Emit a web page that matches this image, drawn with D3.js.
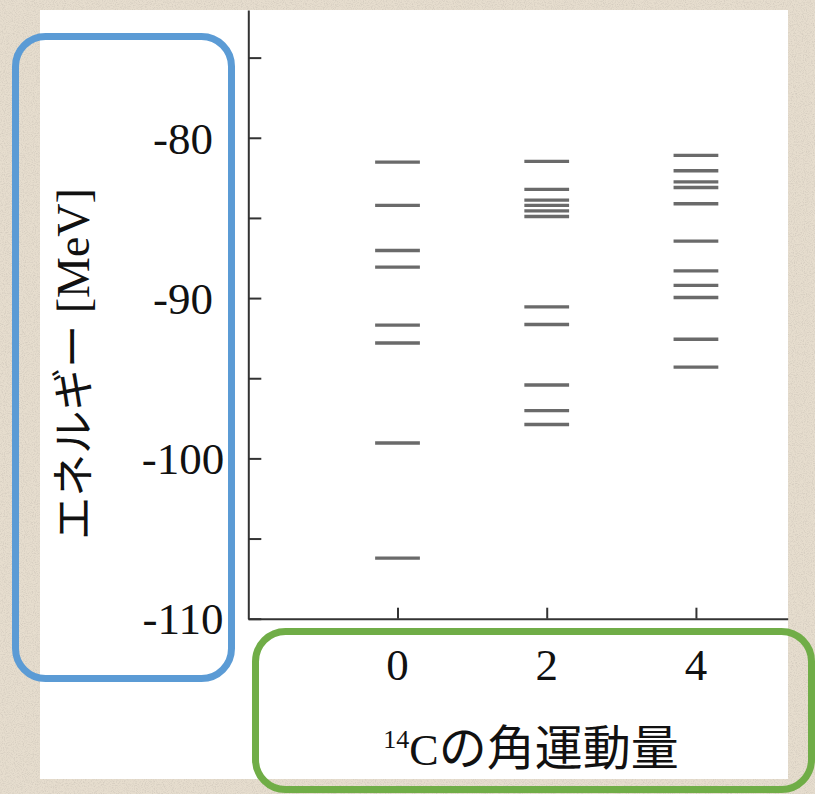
<!DOCTYPE html>
<html>
<head>
<meta charset="utf-8">
<script src="https://cdn.jsdelivr.net/npm/d3@7/dist/d3.min.js"></script>
<style>
  html, body { margin: 0; padding: 0; background: #e6ddce; }
  svg { display: block; }
</style>
</head>
<body>
<svg id="chart" width="815" height="794"></svg>
<script>
// Angular momentum values of 14C (x axis)
const angularMomenta = [0, 2, 4];
const xTickLabels = ["0", "2", "4"];

// Energy levels [MeV] for each angular momentum
const levelsL0 = [-81.52, -84.22, -87.03, -88.07, -91.69, -92.80, -99.04, -106.22];
const levelsL2 = [-81.47, -83.22, -83.89, -84.22, -84.56, -84.91, -90.55, -91.65, -95.42, -97.02, -97.89];
const levelsL4 = [-81.10, -82.06, -82.75, -83.10, -84.12, -86.45, -88.30, -89.21, -89.96, -92.57, -94.31];

// Energy axis ticks
const yTicks = [-75, -80, -85, -90, -95, -100, -105, -110];
const yTickLabels = ["-80", "-90", "-100", "-110"];

const series = [
  { l: angularMomenta[0], levels: levelsL0 },
  { l: angularMomenta[1], levels: levelsL2 },
  { l: angularMomenta[2], levels: levelsL4 }
];

const svg = d3.select("#chart");
const serif = "'Liberation Serif', 'Times New Roman', 'Noto Sans CJK JP', serif";
const jp = "'Noto Sans CJK JP', 'Liberation Serif', serif";

// Paper texture behind the white panel
const defs = svg.append("defs");
const grain = defs.append("filter").attr("id", "grain").attr("x", 0).attr("y", 0).attr("width", "100%").attr("height", "100%");
grain.append("feTurbulence").attr("type", "fractalNoise").attr("baseFrequency", 0.9).attr("numOctaves", 2).attr("seed", 7).attr("result", "noise");
grain.append("feColorMatrix").attr("in", "noise").attr("type", "matrix")
  .attr("values", "0 0 0 0 0.55  0 0 0 0 0.50  0 0 0 0 0.44  0 0 0 -2.2 1.25");
const soft = defs.append("filter").attr("id", "soft").attr("x", "-10%").attr("y", "-200%").attr("width", "120%").attr("height", "500%");
soft.append("feGaussianBlur").attr("stdDeviation", 0.55);

svg.append("rect").attr("width", 815).attr("height", 794).attr("fill", "#e6ddce");
svg.append("rect").attr("width", 815).attr("height", 794).attr("filter", "url(#grain)").attr("opacity", 0.55);

// White panel
svg.append("rect").attr("x", 40).attr("y", 10).attr("width", 748).attr("height", 769).attr("fill", "#ffffff");

// Scales
const x = d3.scaleLinear().domain([-2, 5.23]).range([248.3, 787.7]);
const y = d3.scaleLinear().domain([-110, -72.03]).range([618.7, 10]);
const halfWidth = 0.3;

const axisColor = "#333333";

// Y axis (ticks pointing into the plot)
const yAxis = d3.axisRight(y).tickValues(yTicks).tickSize(13).tickSizeOuter(0).tickFormat("");
const gy = svg.append("g").attr("transform", `translate(${x(-2)},0)`).call(yAxis);
gy.select(".domain").attr("stroke", axisColor).attr("stroke-width", 2);
gy.selectAll(".tick line").attr("stroke", axisColor).attr("stroke-width", 2);

// Y tick labels
svg.append("g").selectAll("text")
  .data(yTickLabels)
  .join("text")
  .attr("x", 183)
  .attr("y", d => y(+d))
  .attr("dy", "0.35em")
  .attr("text-anchor", "middle")
  .attr("font-family", serif)
  .attr("font-size", 45)
  .attr("fill", "#111")
  .text(d => d);

// X axis (ticks pointing up into the plot)
const xAxis = d3.axisTop(x).tickValues(angularMomenta).tickSize(11).tickSizeOuter(0).tickFormat("");
const gx = svg.append("g").attr("transform", `translate(0,${y(-110)})`).call(xAxis);
gx.select(".domain").attr("stroke", axisColor).attr("stroke-width", 2);
gx.selectAll(".tick line").attr("stroke", axisColor).attr("stroke-width", 2);

// X tick labels
svg.append("g").selectAll("text")
  .data(angularMomenta)
  .join("text")
  .attr("x", d => x(d))
  .attr("y", 680)
  .attr("text-anchor", "middle")
  .attr("font-family", serif)
  .attr("font-size", 45)
  .attr("fill", "#111")
  .text((d, i) => xTickLabels[i]);

// Energy level marks
const levelGroup = svg.append("g").attr("filter", "url(#soft)");
series.forEach(s => {
  levelGroup.selectAll(null)
    .data(s.levels)
    .join("line")
    .attr("x1", x(s.l - halfWidth))
    .attr("x2", x(s.l + halfWidth))
    .attr("y1", d => y(d))
    .attr("y2", d => y(d))
    .attr("stroke", "#6a6a6a")
    .attr("stroke-width", 3.4);
});

// Y axis title
const yTitle = svg.append("text")
  .attr("transform", "translate(89,364) rotate(-90)")
  .attr("text-anchor", "middle")
  .attr("fill", "#111");
yTitle.append("tspan").attr("font-family", jp).attr("font-size", 43).text("エネルギー");
yTitle.append("tspan").attr("font-family", serif).attr("font-size", 46).text(" [MeV]");

// X axis title
const xTitle = svg.append("text")
  .attr("x", 531)
  .attr("y", 765)
  .attr("text-anchor", "middle")
  .attr("fill", "#111");
xTitle.append("tspan").attr("font-family", serif).attr("font-size", 26).attr("dy", -17).text("14");
xTitle.append("tspan").attr("font-family", serif).attr("font-size", 44).attr("dy", 17).text("C");
xTitle.append("tspan").attr("font-family", jp).attr("font-size", 48).text("の角運動量");

// Highlight frames around the axis label areas
svg.append("rect")
  .attr("x", 15.5).attr("y", 36.5).attr("width", 216).attr("height", 642)
  .attr("rx", 30).attr("ry", 30)
  .attr("fill", "none").attr("stroke", "#5b9bd5").attr("stroke-width", 7);
svg.append("rect")
  .attr("x", 255.5).attr("y", 631.5).attr("width", 556).attr("height", 158)
  .attr("rx", 30).attr("ry", 30)
  .attr("fill", "none").attr("stroke", "#70ad47").attr("stroke-width", 7);
</script>
</body>
</html>
